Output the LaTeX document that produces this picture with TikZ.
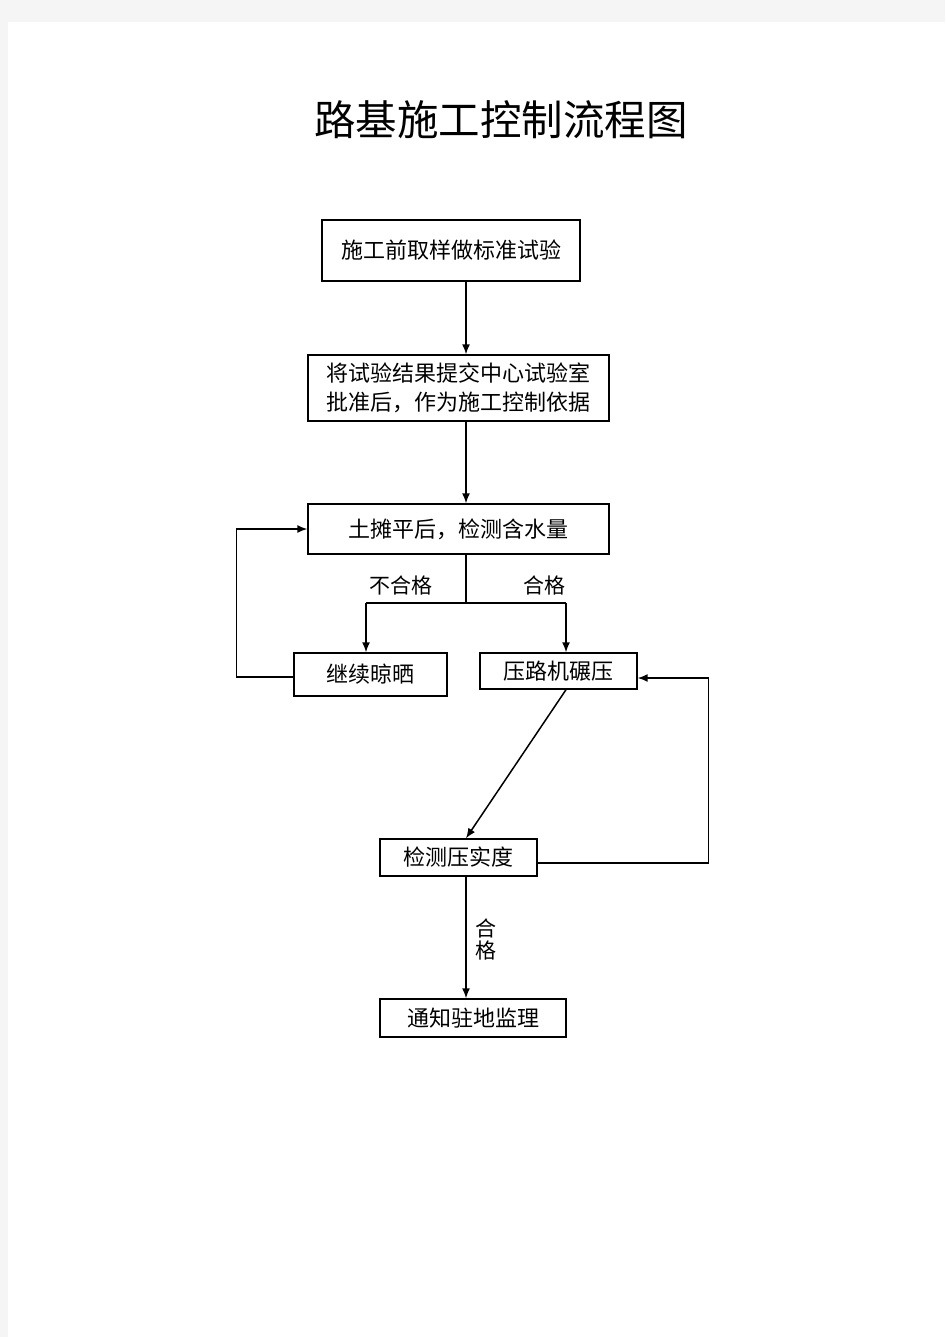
\documentclass[tikz,border=0pt]{standalone}
\usepackage{fontspec}
\setmainfont{Noto Sans CJK SC}
\usetikzlibrary{arrows.meta,calc}
\tikzset{
    block/.style = {draw, rectangle, line width=1.4pt,
        inner sep=0pt, align=center,
        font=\fontsize{22}{29}\selectfont},
    arrow/.style = {draw, line width=1.5pt, -{Latex[length=10pt,width=8pt]}},
    link/.style = {draw, line width=1.5pt},
    lbl/.style = {font=\fontsize{21}{22}\selectfont, inner sep=0pt}
}
\begin{document}
\begin{tikzpicture}[x=1pt,y=-1pt]
    \fill[black!4] (0,0) rectangle (945,1337);
    \fill[white] (8,22) rectangle (945,1337);
    \useasboundingbox (0,0) rectangle (945,1337);
    \node[font=\fontsize{41.5}{44}\selectfont] (title) at (501,120) {路基施工控制流程图};
    % boxes
    \node[block, minimum width=258, minimum height=61] (b1) at (451,250.5) {施工前取样做标准试验};
    \node[block, minimum width=301, minimum height=66] (b2) at (458.5,388) {将试验结果提交中心试验室\\批准后，作为施工控制依据};
    \node[block, minimum width=301, minimum height=50] (b3) at (458.5,529) {土摊平后，检测含水量};
    \node[block, minimum width=153, minimum height=43] (b4) at (370.5,674.5) {继续晾晒};
    \node[block, minimum width=157, minimum height=36] (b5) at (558.5,671) {压路机碾压};
    \node[block, minimum width=157, minimum height=37] (b6) at (458.5,857.5) {检测压实度};
    \node[block, minimum width=186, minimum height=38] (b7) at (473,1018) {通知驻地监理};
    \coordinate (spine) at (466,603);
    \coordinate (lft) at (366,603);
    \coordinate (rgt) at (566,603);
    % connectors
    \draw[arrow] (b1.south -| spine) -- (b2.north -| spine);
    \draw[arrow] (b2.south -| spine) -- (b3.north -| spine);
    \draw[link] (b3.south -| spine) -- (spine);
    \draw[link] (lft) -- (rgt);
    \draw[arrow] (lft) -- (b4.north -| lft);
    \draw[arrow] (rgt) -- (b5.north -| rgt);
    \node[lbl] (no) at (401,585) {不合格};
    \node[lbl] (yes) at (544,585) {合格};
    \draw[arrow] ([yshift=-2.5pt]b4.west) -- ++(-57,0) |- (b3.west);
    \draw[arrow] (b5.south -| rgt) -- (b6.north -| spine);
    \draw[arrow] ([yshift=-5.5pt]b6.east) -- ++(171,0) |- ([yshift=-7pt]b5.east);
    \draw[arrow] (b6.south -| spine) -- (b7.north -| spine);
    \node[lbl, align=center] (ok) at (486,939) {合\\格};
\end{tikzpicture}
\end{document}
